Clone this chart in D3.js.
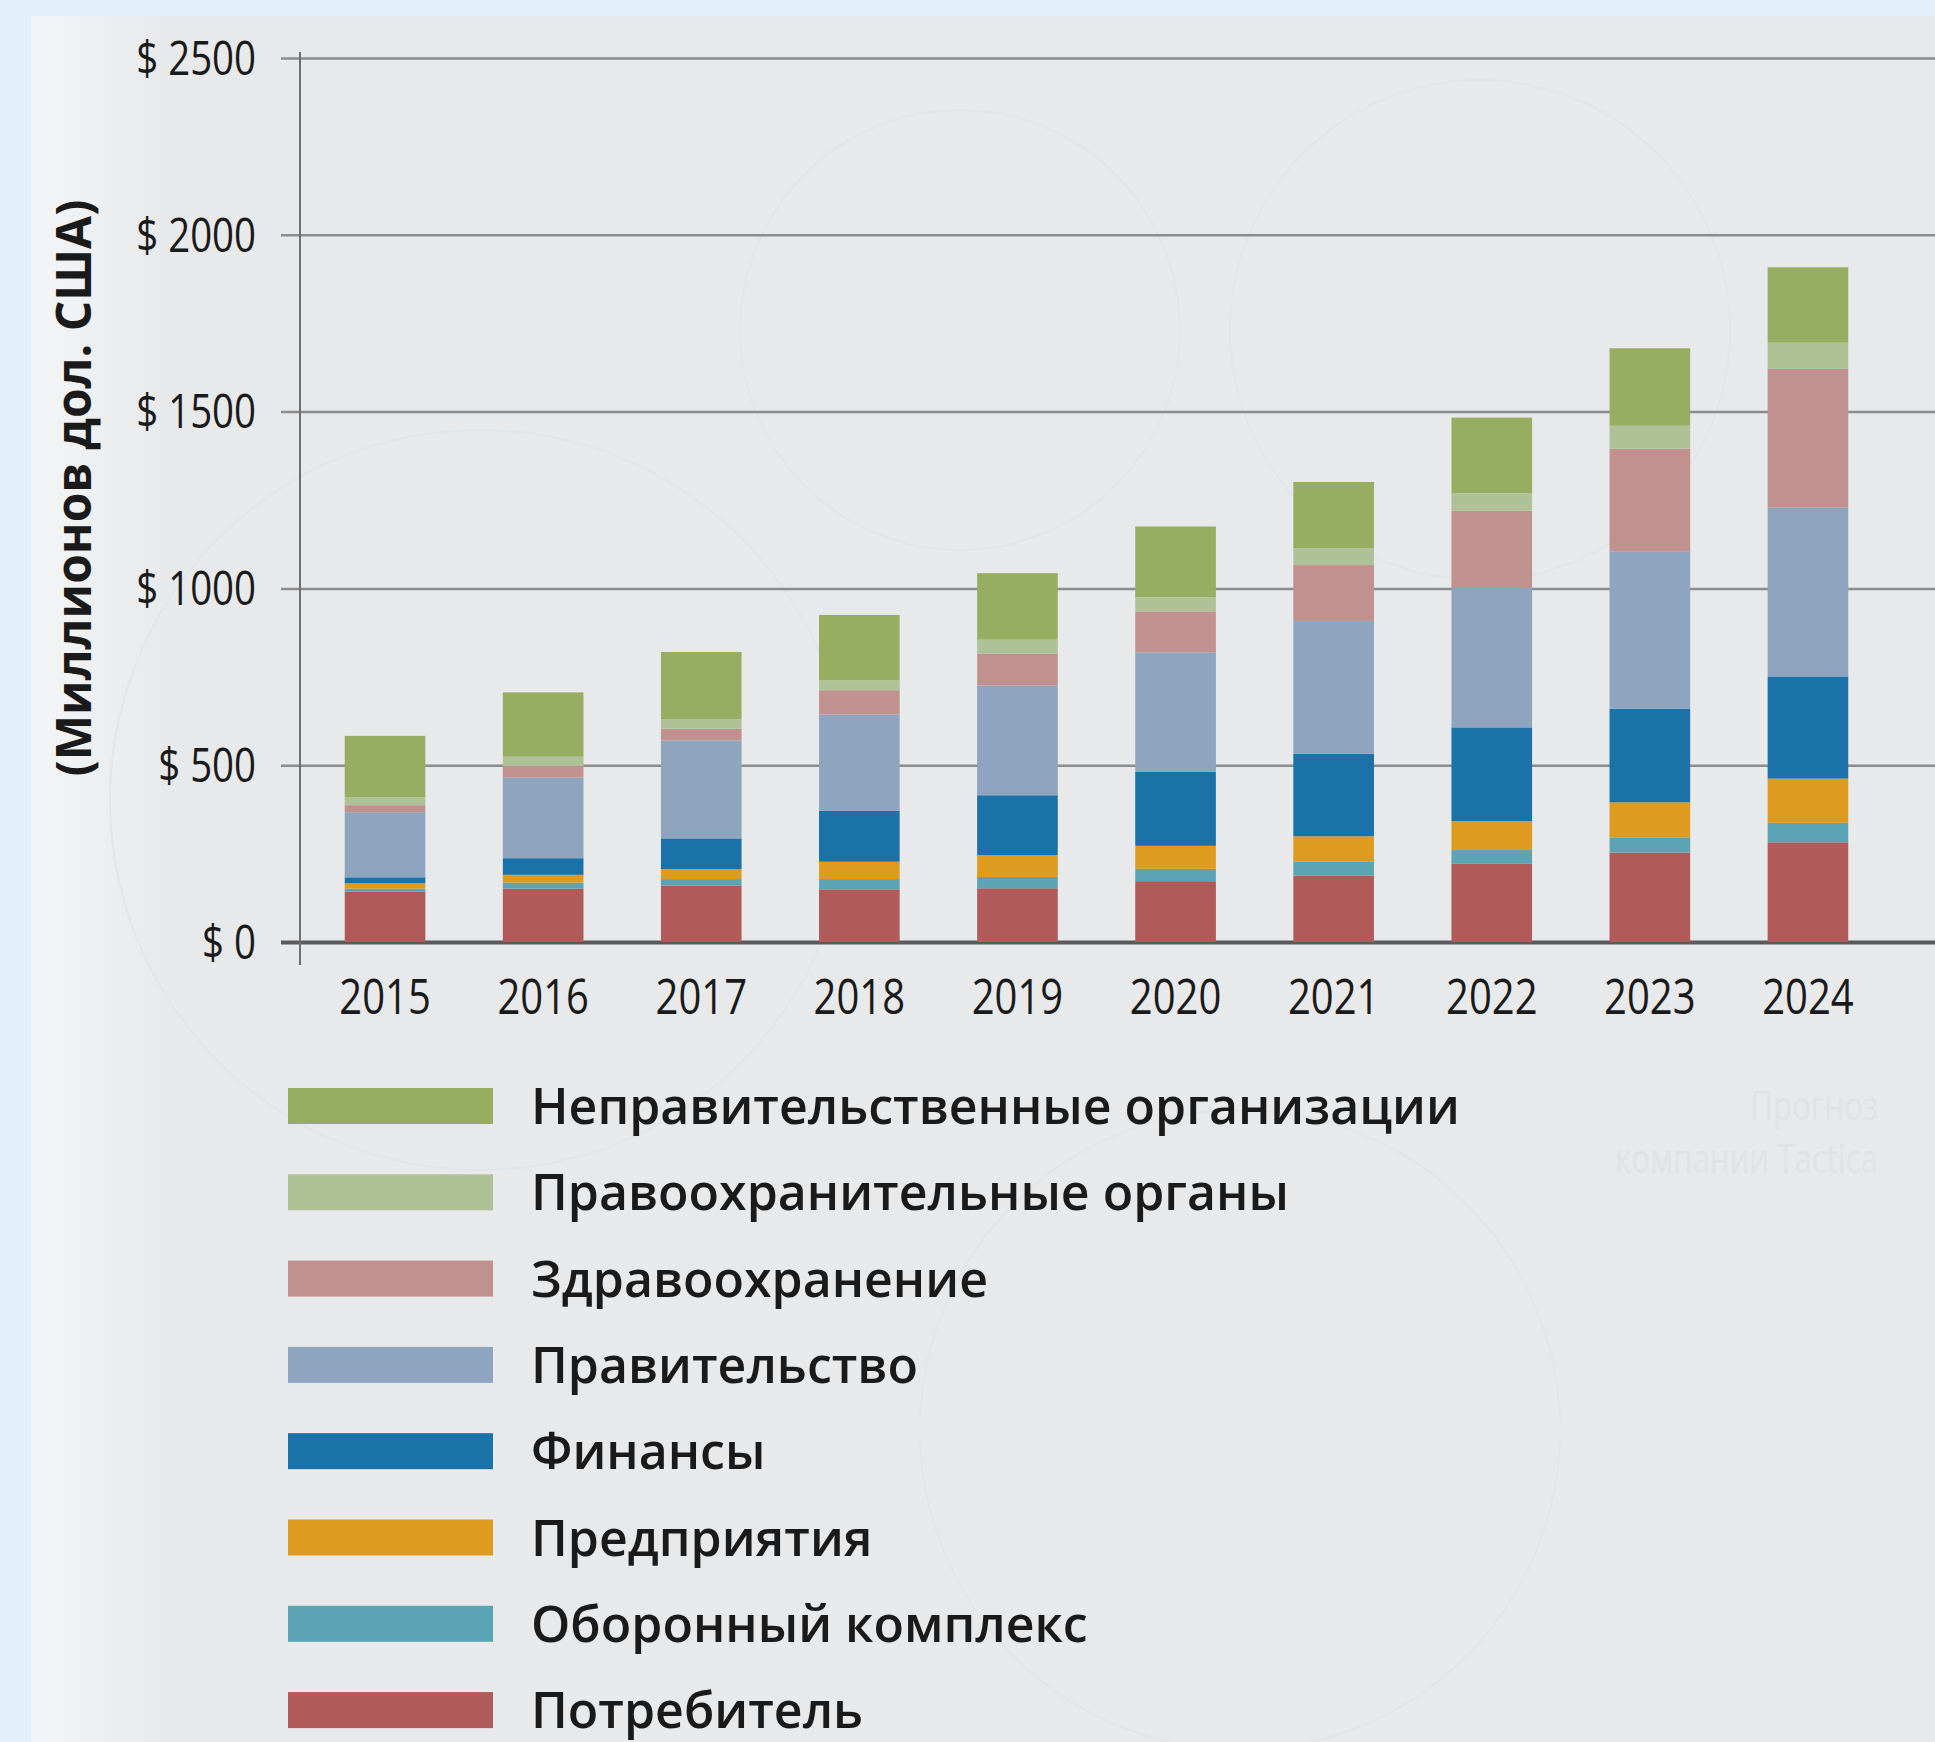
<!DOCTYPE html>
<html>
<head>
<meta charset="utf-8">
<script src="https://cdn.jsdelivr.net/npm/d3@7"></script>
<style>
  html, body { margin: 0; padding: 0; background: #e4f1fa; }
  svg { display: block; }
</style>
</head>
<body>
<svg id="chart" width="1935" height="1742"></svg>
<script>
// values in millions USD
const years = ['2015', '2016', '2017', '2018', '2019', '2020', '2021', '2022', '2023', '2024'];
const consumer = [143, 151, 160, 149, 152, 172, 188, 221, 253, 282];
const defense = [8, 17, 18, 29, 32, 35, 40, 39, 43, 55];
const enterprise = [15, 22, 28, 49, 62, 65, 71, 82, 99, 125];
const finance = [17, 47, 87, 144, 169, 209, 233, 265, 265, 289];
const government = [184, 228, 277, 272, 310, 338, 376, 394, 445, 477];
const healthcare = [20, 32, 33, 69, 91, 116, 158, 219, 290, 393];
const lawEnforcement = [23, 27, 27, 28, 39, 40, 47, 49, 65, 74];
const ngo = [173, 182, 190, 185, 188, 200, 188, 214, 219, 213];

const seriesNames = ['Потребитель', 'Оборонный комплекс', 'Предприятия', 'Финансы',
  'Правительство', 'Здравоохранение', 'Правоохранительные органы', 'Неправительственные организации'];
const seriesValues = [consumer, defense, enterprise, finance, government, healthcare, lawEnforcement, ngo];
const seriesColors = ['#b05a5a', '#5ba4b4', '#df9a20', '#1b72a8', '#8ea4bf', '#c19190', '#afc196', '#97ae62'];
const yTicks = [0, 500, 1000, 1500, 2000, 2500];

const width = 1935;
const height = 1742;
const svg = d3.select('#chart');

// squeeze text horizontally to mimic the condensed face of the original
function condense(sel, k) {
  sel.each(function() {
    const len = this.getComputedTextLength();
    d3.select(this).attr('textLength', len * k).attr('lengthAdjust', 'spacingAndGlyphs');
  });
}

// background panel
const grad = svg.append('defs').append('linearGradient')
  .attr('id', 'panel').attr('x1', 0).attr('y1', 0).attr('x2', 1).attr('y2', 0);
grad.append('stop').attr('offset', '0').attr('stop-color', '#f4f5f6');
grad.append('stop').attr('offset', '0.07').attr('stop-color', '#e8e9ea');
grad.append('stop').attr('offset', '1').attr('stop-color', '#e8e9ea');
svg.append('rect').attr('width', width).attr('height', height).attr('fill', '#e2f0fa');
svg.append('rect').attr('x', 31).attr('y', 16).attr('width', width - 31).attr('height', height - 16)
  .attr('fill', 'url(#panel)');

// faint decorative circles
[[960, 330, 220], [1480, 330, 250], [480, 800, 370], [1240, 1430, 320]].forEach(c => {
  svg.append('circle').attr('cx', c[0]).attr('cy', c[1]).attr('r', c[2])
    .attr('fill', 'none').attr('stroke', '#e1e6ea').attr('stroke-width', 2);
});

const table = years.map((y, i) => {
  const row = { year: y };
  seriesNames.forEach((name, k) => { row[name] = seriesValues[k][i]; });
  return row;
});
const stacked = d3.stack().keys(seriesNames)(table);

const x = d3.scaleBand().domain(years).range([306, 1887]).paddingInner(0.49).paddingOuter(0.245);
const y = d3.scaleLinear().domain([0, 2500]).range([942, 58]);
const color = d3.scaleOrdinal().domain(seriesNames).range(seriesColors);

const numFont = '"Open Sans", sans-serif';

// y axis with gridlines
const yAxis = svg.append('g')
  .attr('transform', 'translate(300,0)')
  .call(d3.axisLeft(y).tickValues(yTicks).tickSize(-(width - 300)).tickPadding(44)
    .tickFormat(d => '$ ' + d));
yAxis.select('.domain').remove();
yAxis.selectAll('.tick line')
  .attr('x1', -19)
  .attr('stroke', d => (d === 0 ? '#5a5a5a' : '#8c8c8c'))
  .attr('stroke-width', d => (d === 0 ? 4 : 2.5));
yAxis.selectAll('.tick text')
  .attr('fill', '#1a1a1a')
  .attr('dy', '0.34em')
  .style('font-family', numFont)
  .style('font-size', '48px')
  .call(condense, 0.8);

// vertical axis line
svg.append('line').attr('x1', 300).attr('x2', 300).attr('y1', 52).attr('y2', 965)
  .attr('stroke', '#6e6e6e').attr('stroke-width', 2);

// bars
svg.append('g').selectAll('g')
  .data(stacked)
  .join('g')
  .attr('fill', d => color(d.key))
  .selectAll('rect')
  .data(d => d)
  .join('rect')
  .attr('x', d => x(d.data.year))
  .attr('width', x.bandwidth())
  .attr('y', d => y(d[1]))
  .attr('height', d => y(d[0]) - y(d[1]));

// x axis labels
const xAxis = svg.append('g')
  .attr('transform', 'translate(0,942)')
  .call(d3.axisBottom(x).tickSize(0).tickPadding(36));
xAxis.select('.domain').remove();
xAxis.selectAll('.tick text')
  .attr('fill', '#1a1a1a')
  .style('font-family', numFont)
  .style('font-size', '50px')
  .call(condense, 0.8);

// y title
svg.append('text')
  .attr('transform', 'translate(91,488) rotate(-90)')
  .attr('text-anchor', 'middle')
  .attr('fill', '#1a1a1a')
  .style('font-family', '"Open Sans", sans-serif')
  .style('font-weight', 700)
  .style('font-size', '48px')
  .text('(Миллионов дол. США)');

// watermark
const wm = svg.append('g')
  .attr('fill', '#e1e2e3')
  .style('font-family', numFont)
  .style('font-size', '40px')
  .attr('text-anchor', 'end');
wm.append('text').attr('x', 1878).attr('y', 1120).text('Прогноз').call(condense, 0.78);
wm.append('text').attr('x', 1878).attr('y', 1173).text('компании Tactica').call(condense, 0.78);

// legend (top to bottom = reverse stack order)
const legendItems = seriesNames.slice().reverse();
const legend = svg.append('g').selectAll('g')
  .data(legendItems)
  .join('g')
  .attr('transform', (d, i) => `translate(288,${1106 + i * 86.3})`);
legend.append('rect')
  .attr('x', 0).attr('y', -18).attr('width', 205).attr('height', 36)
  .attr('fill', d => color(d));
legend.append('text')
  .attr('x', 243).attr('y', 18)
  .attr('fill', '#1a1a1a')
  .style('font-family', '"Open Sans", sans-serif')
  .style('font-weight', 600)
  .style('font-size', '50px')
  .text(d => d);
</script>
</body>
</html>
